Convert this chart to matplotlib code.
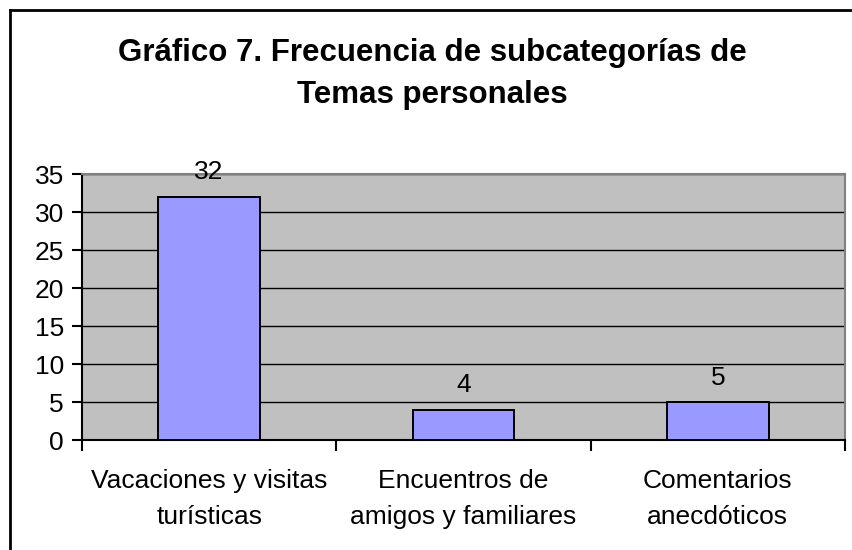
import matplotlib.pyplot as plt
from matplotlib.lines import Line2D
import numpy as np

categorias = ["Vacaciones y visitas\nturísticas", "Encuentros de\namigos y familiares", "Comentarios\nanecdóticos"]
valores = [32, 4, 5]
y_ticks = [0, 5, 10, 15, 20, 25, 30, 35]

plt.rcParams['font.family'] = ['Liberation Sans', 'DejaVu Sans']

fig = plt.figure(figsize=(8.52, 5.5), dpi=100)
ax = fig.add_axes([82 / 852, 1 - 440 / 550, (845 - 82) / 852, (440 - 174) / 550])

# marco exterior (solo izquierda y arriba)
fig.add_artist(Line2D([10 / 852, 10 / 852], [0, 1 - 10 / 550], transform=fig.transFigure, color='black', lw=2))
fig.add_artist(Line2D([10 / 852, 1], [1 - 10 / 550, 1 - 10 / 550], transform=fig.transFigure, color='black', lw=2))

x = np.arange(len(categorias))
ax.set_facecolor('#C0C0C0')
ax.bar(x, valores, width=0.4, color='#9999FF', edgecolor='black', linewidth=1.4, zorder=3)
for xi, v in zip(x, valores):
    ax.annotate(str(v), (xi, v), xytext=(0, 17.5), textcoords='offset points',
                ha='center', va='center', fontsize=19)

ax.set_xlim(-0.5, 2.5)
ax.set_ylim(0, 35)
ax.set_yticks(y_ticks)
ax.tick_params(axis='y', labelsize=19, length=7, width=1.5, direction='out', pad=6)
ax.yaxis.grid(True, color='black', linewidth=1, zorder=0)
ax.set_axisbelow(True)

ax.set_xticks(x)
ax.set_xticklabels(categorias, fontsize=19, linespacing=1.6)
ax.tick_params(axis='x', which='major', length=0, pad=21)
ax.set_xticks([-0.5, 0.5, 1.5, 2.5], minor=True)
ax.tick_params(axis='x', which='minor', length=8, width=1.5, direction='out')

for s in ['left', 'bottom']:
    ax.spines[s].set_linewidth(1.5)
    ax.spines[s].set_color('black')
for s in ['top', 'right']:
    ax.spines[s].set_linewidth(1.5)
    ax.spines[s].set_color('#808080')

fig.text(432 / 852, 1 - 74 / 550, "Gráfico 7. Frecuencia de subcategorías de\nTemas personales",
         ha='center', va='center', fontsize=22.5, fontweight='bold', linespacing=1.55)

fig.savefig('out.png', dpi=100)
